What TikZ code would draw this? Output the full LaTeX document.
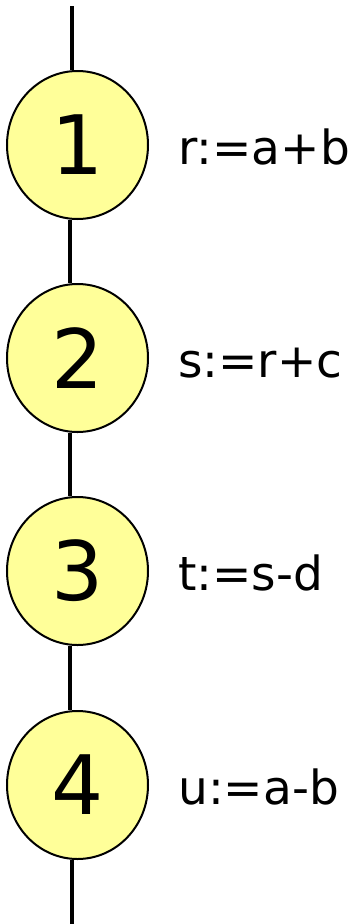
\documentclass[tikz,border=0pt]{standalone}
\usepackage{fontspec}
\setmainfont{DejaVu Sans}
\usetikzlibrary{shapes.geometric}

\tikzset{
  stmt/.style={ellipse,draw,line width=2pt,fill=stmtfill,minimum width=141pt,minimum height=148pt,inner sep=0pt,font=\fontsize{82}{82}\selectfont},
  code/.style={anchor=base west,inner sep=0pt,font=\fontsize{47}{47}\selectfont},
  flow/.style={line width=3.2pt}
}
\definecolor{stmtfill}{HTML}{FFFF99}

\begin{document}
\begin{tikzpicture}[x=1pt,y=-1pt]
  \useasboundingbox (0,0) rectangle (355,924);
  \coordinate (top) at (72,6);
  \coordinate (bot) at (72,924);
  \node[stmt] (s1) at (77.5,145) {1};
  \node[stmt] (s2) at (77.5,358) {2};
  \node[stmt] (s3) at (77.5,571) {3};
  \node[stmt] (s4) at (77.5,785) {4};
  \draw[flow] (top)--(s1.north -| top);
  \draw[flow] (s1.south -| 70,0)--(s2.north -| 70,0);
  \draw[flow] (s2.south -| 70,0)--(s3.north -| 70,0);
  \draw[flow] (s3.south -| 70,0)--(s4.north -| 70,0);
  \draw[flow] (s4.south -| bot)--(bot);
  \node[code] (c1) at (178,164) {r:=a+b};
  \node[code] (c2) at (178,377) {s:=r+c};
  \node[code] (c3) at (178,590) {t:=s-d};
  \node[code] (c4) at (178,804) {u:=a-b};
\end{tikzpicture}
\end{document}
